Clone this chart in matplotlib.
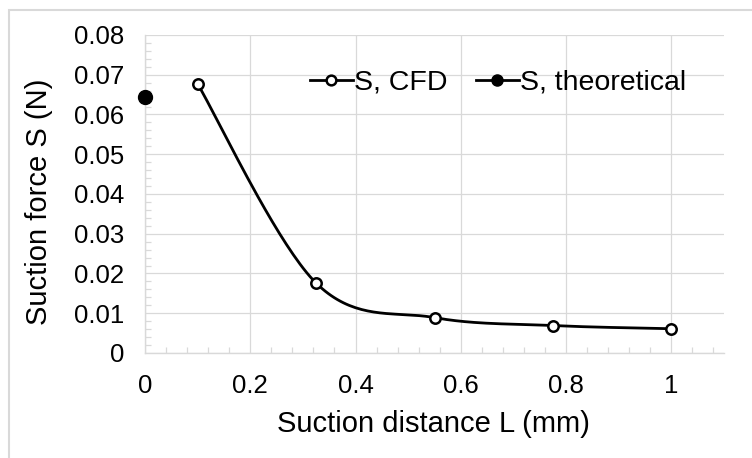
import numpy as np
import matplotlib
matplotlib.use("Agg")
import matplotlib.pyplot as plt
from matplotlib.lines import Line2D
from matplotlib.patches import Rectangle

# values
cfd_L = [0.1, 0.325, 0.55, 0.775, 1.0]
cfd_S = [0.0677, 0.0176, 0.0089, 0.0069, 0.0061]
theo_L = [0.0]
theo_S = [0.0644]

x_ticks = [0, 0.2, 0.4, 0.6, 0.8, 1]
x_tick_labels = ["0", "0.2", "0.4", "0.6", "0.8", "1"]
y_ticks = [0, 0.01, 0.02, 0.03, 0.04, 0.05, 0.06, 0.07, 0.08]
y_tick_labels = ["0", "0.01", "0.02", "0.03", "0.04", "0.05", "0.06", "0.07", "0.08"]

GRID = "#d9d9d9"


def smooth_curve(xs, ys, n=40):
    """Excel-style smoothed line: cubic Bezier segments, Catmull-Rom control points"""
    p = np.column_stack([xs, ys]).astype(float)
    p = np.vstack([p[0], p, p[-1]])
    t = np.linspace(0, 1, n)[:, None]
    out = []
    for i in range(1, len(p) - 2):
        p0, p1, p2, p3 = p[i - 1], p[i], p[i + 1], p[i + 2]
        c1 = p1 + (p2 - p0) / 6
        c2 = p2 - (p3 - p1) / 6
        seg = ((1 - t) ** 3) * p1 + 3 * ((1 - t) ** 2) * t * c1 + 3 * (1 - t) * t ** 2 * c2 + t ** 3 * p2
        out.append(seg)
    out = np.vstack(out)
    return out[:, 0], out[:, 1]


plt.rcParams['font.family'] = ['Liberation Sans', 'DejaVu Sans']

fig = plt.figure(figsize=(7.52, 4.58), dpi=100)
ax = fig.add_axes([0.1928, 0.2293, 0.77, 0.6943])

# outer chart border
fig.patches.append(Rectangle((9 / 752, -0.1), 1.2, 1 - 10 / 458 + 0.1, transform=fig.transFigure,
                             fill=False, edgecolor=GRID, lw=1.5))

sx, sy = smooth_curve(cfd_L, cfd_S)
ax.plot(sx, sy, color="black", lw=2.0, zorder=3)
ax.plot(cfd_L, cfd_S, ls="none", marker="o", ms=7.5, mfc="white", mec="black", mew=1.8, zorder=4)
ax.plot(theo_L, theo_S, ls="none", marker="o", ms=10, color="black", zorder=4, clip_on=False)

ax.set_xlim(0, 1.1)
ax.set_ylim(0, 0.08)
ax.set_xticks(x_ticks)
ax.set_xticklabels(x_tick_labels)
ax.set_yticks(y_ticks)
ax.set_yticklabels(y_tick_labels)
ax.set_xticks(np.arange(0, 1.1, 0.04), minor=True)
ax.set_yticks(np.arange(0, 0.0801, 0.002), minor=True)

ax.grid(True, which="major", color=GRID, lw=0.9)
ax.set_axisbelow(True)
for side in ["top", "right"]:
    ax.spines[side].set_visible(False)
for side in ["left", "bottom"]:
    ax.spines[side].set_color(GRID)
    ax.spines[side].set_linewidth(1.0)

ax.tick_params(which="major", length=0, pad=15, labelsize=18.5)
ax.tick_params(which="minor", direction="in", length=4, width=0.9, color=GRID)

ax.set_xlabel("Suction distance L (mm)", fontsize=21)
ax.set_ylabel("Suction force S (N)", fontsize=21)
ax.xaxis.set_label_coords(0.499, -0.18)
ax.yaxis.set_label_coords(-0.158, 0.475)

handles = [
    Line2D([], [], color="black", lw=2.0, marker="o", ms=7, mfc="white", mec="black", mew=1.8),
    Line2D([], [], color="black", lw=2.0, marker="o", ms=8),
]
ax.legend(handles, ["S, CFD", "S, theoretical"], ncol=2, frameon=False, fontsize=20.5,
          loc="center", bbox_to_anchor=(0.61, 0.85), handlelength=1.5, handletextpad=0.05,
          columnspacing=1.0, borderpad=0)

fig.savefig("out.png", dpi=100)
